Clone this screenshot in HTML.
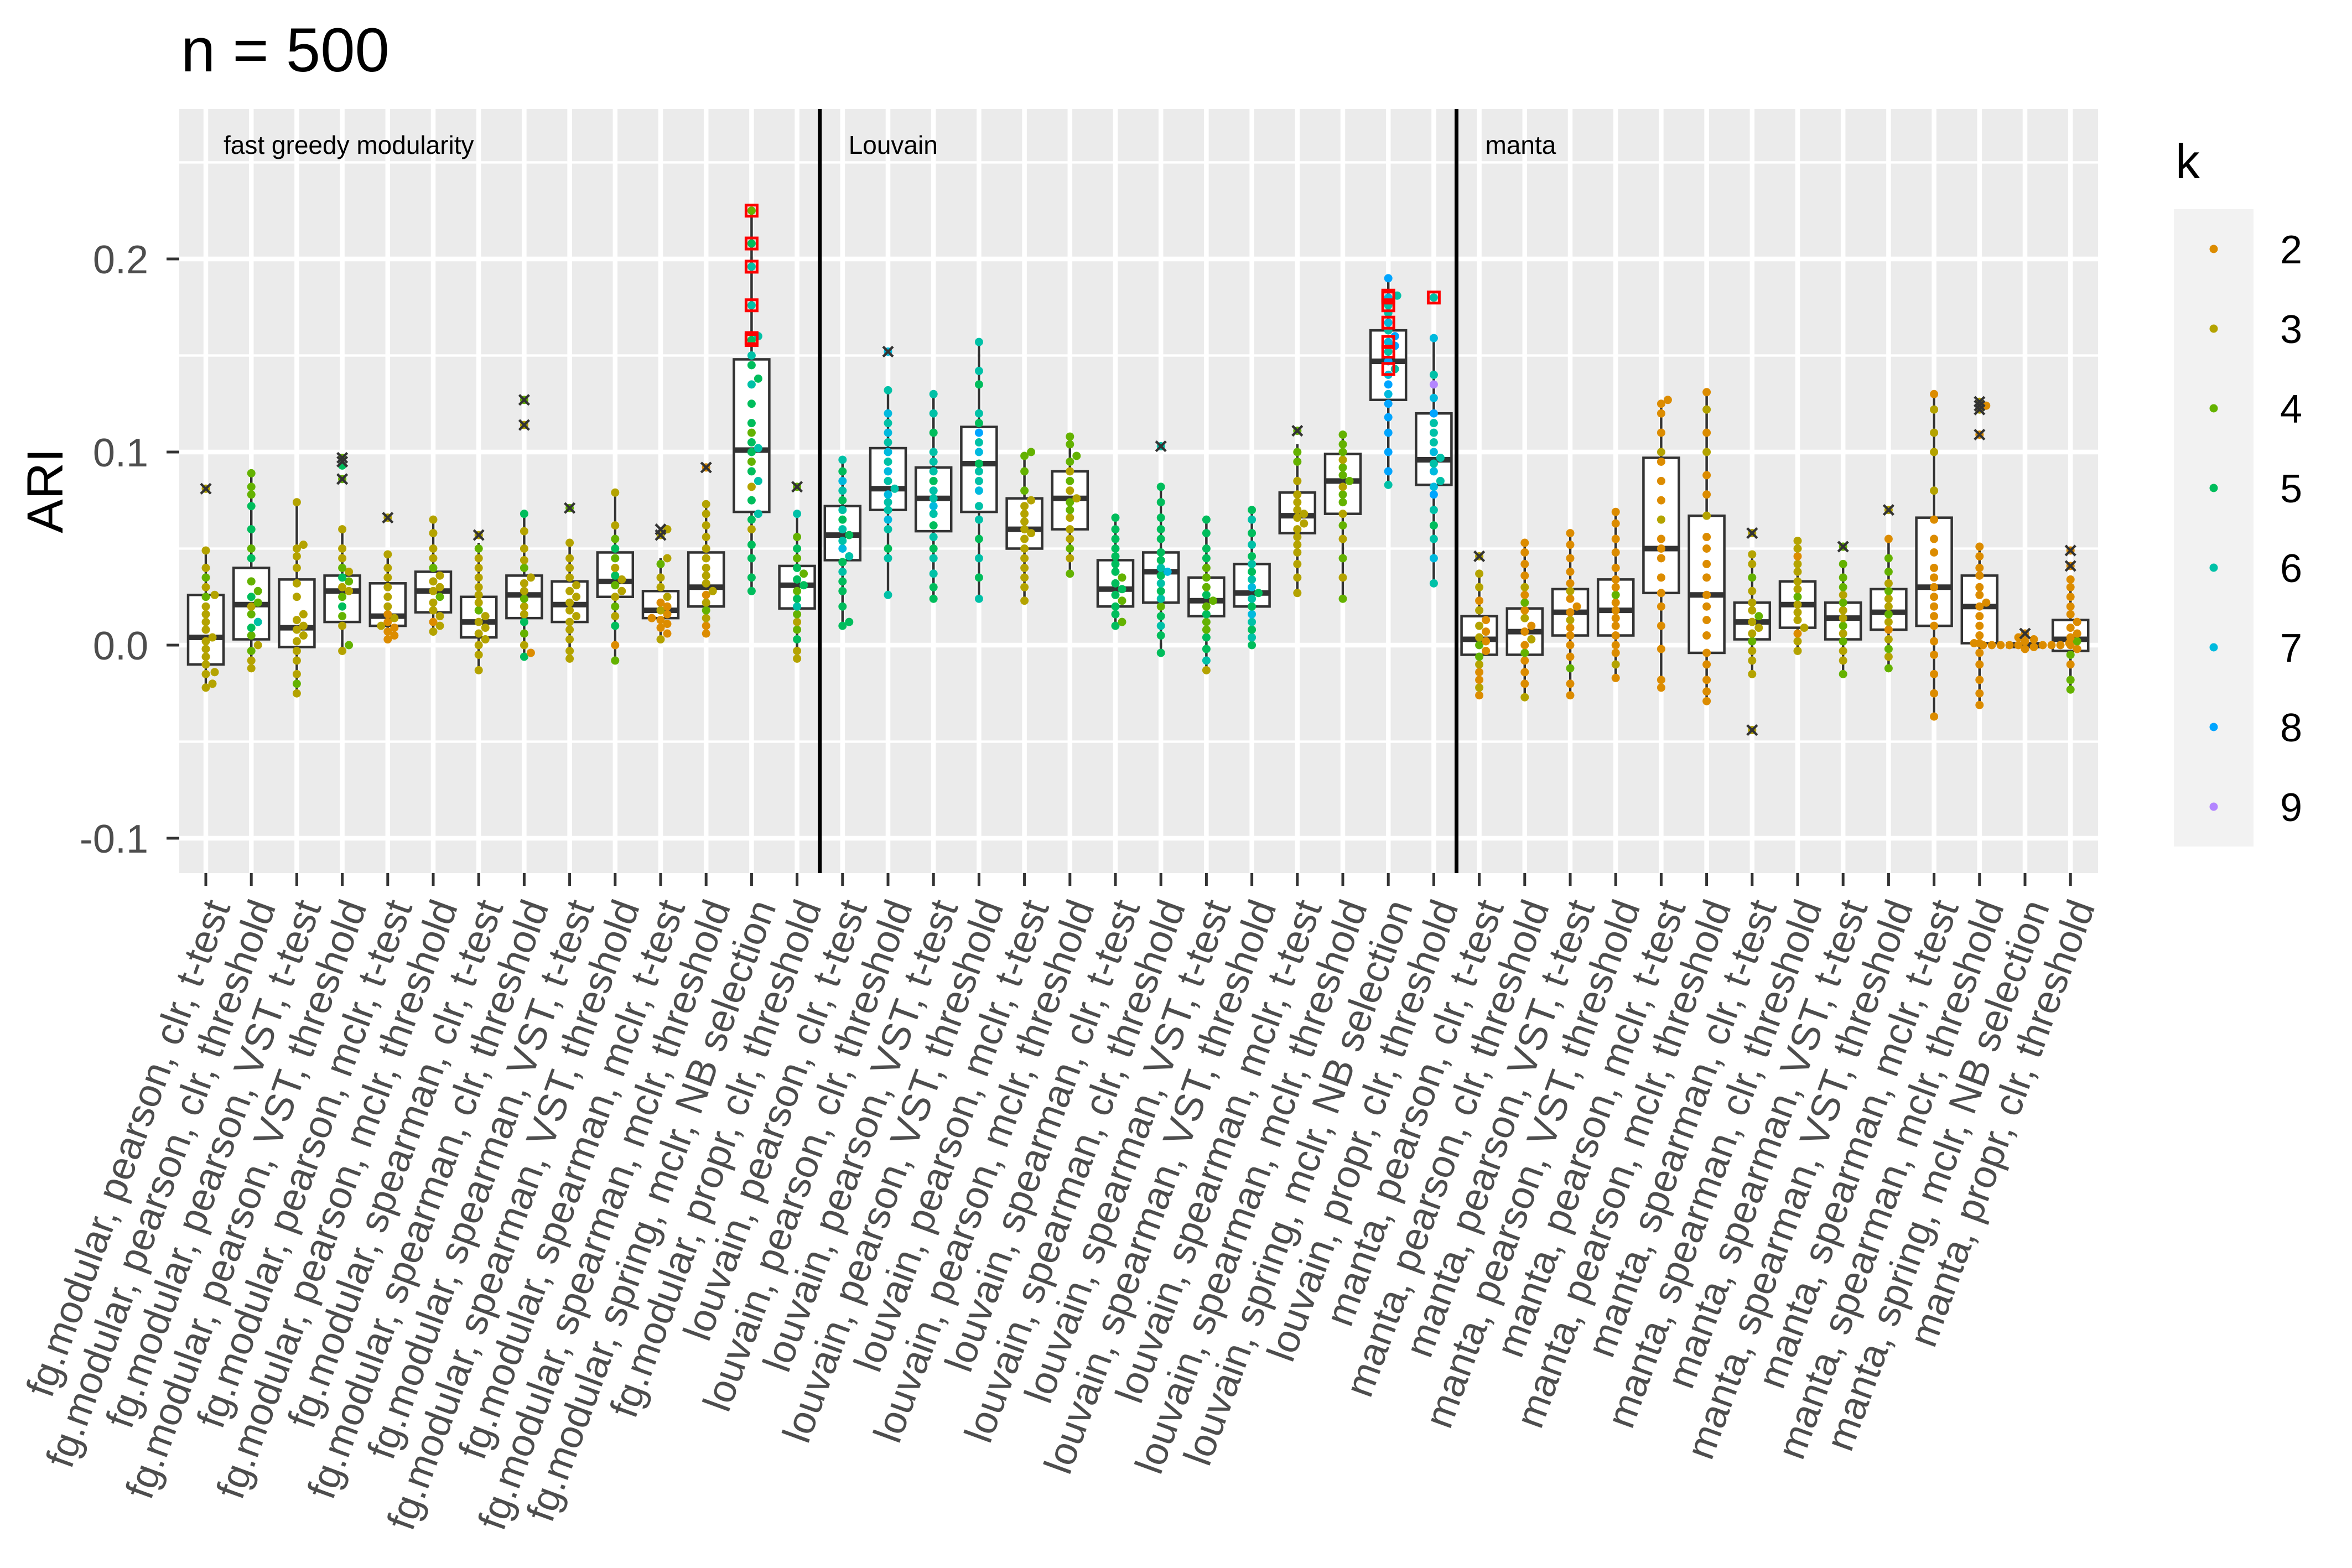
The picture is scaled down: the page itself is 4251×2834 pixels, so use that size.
<!DOCTYPE html>
<html><head><meta charset="utf-8"><title>n = 500 ARI</title>
<style>html,body{margin:0;padding:0;background:#fff}svg{display:block}text{font-family:"Liberation Sans",Arial,sans-serif}</style>
</head><body>
<svg id="chart" xmlns="http://www.w3.org/2000/svg" width="4251" height="2834" viewBox="0 0 4251 2834">
<rect x="0" y="0" width="4251" height="2834" fill="#fff"/>
<text x="327" y="129" font-size="112" fill="#000">n = 500</text>
<rect x="324" y="197" width="3468" height="1381" fill="#EBEBEB"/>
<g id="grid"></g>
<g id="dividers"></g>
<g id="facetlabels"></g>
<g id="boxes"></g>
<g id="points"></g>
<g id="outliers"></g>
<g id="yaxis"></g>
<g id="xaxis"></g>
<text x="0" y="0" transform="translate(113,887) rotate(-90)" text-anchor="middle" font-size="92" fill="#000">ARI</text>
<g id="legend">
<text x="3932" y="322" font-size="88" fill="#000">k</text>
<rect x="3929" y="378" width="144" height="1152" fill="#F2F2F2"/>
</g>
</svg>
<script>
const categories = [
"fg.modular, pearson, clr, t-test","fg.modular, pearson, clr, threshold","fg.modular, pearson, VST, t-test","fg.modular, pearson, VST, threshold","fg.modular, pearson, mclr, t-test","fg.modular, pearson, mclr, threshold","fg.modular, spearman, clr, t-test","fg.modular, spearman, clr, threshold","fg.modular, spearman, VST, t-test","fg.modular, spearman, VST, threshold","fg.modular, spearman, mclr, t-test","fg.modular, spearman, mclr, threshold","fg.modular, spring, mclr, NB selection","fg.modular, propr, clr, threshold",
"louvain, pearson, clr, t-test","louvain, pearson, clr, threshold","louvain, pearson, VST, t-test","louvain, pearson, VST, threshold","louvain, pearson, mclr, t-test","louvain, pearson, mclr, threshold","louvain, spearman, clr, t-test","louvain, spearman, clr, threshold","louvain, spearman, VST, t-test","louvain, spearman, VST, threshold","louvain, spearman, mclr, t-test","louvain, spearman, mclr, threshold","louvain, spring, mclr, NB selection","louvain, propr, clr, threshold",
"manta, pearson, clr, t-test","manta, pearson, clr, threshold","manta, pearson, VST, t-test","manta, pearson, VST, threshold","manta, pearson, mclr, t-test","manta, pearson, mclr, threshold","manta, spearman, clr, t-test","manta, spearman, clr, threshold","manta, spearman, VST, t-test","manta, spearman, VST, threshold","manta, spearman, mclr, t-test","manta, spearman, mclr, threshold","manta, spring, mclr, NB selection","manta, propr, clr, threshold"];
const methodLabels = ["fast greedy modularity","Louvain","manta"];
const yTicks = [-0.1, 0.0, 0.1, 0.2];
const yTickLabels = ["-0.1","0.0","0.1","0.2"];
const yMinor = [-0.05, 0.05, 0.15, 0.25];
const legendKs = [2,3,4,5,6,7,8,9];
const kColors = {2:"#DC8C00",3:"#B4A300",4:"#64B200",5:"#00BD5C",6:"#00C1A7",7:"#00BADE",8:"#00A5FF",9:"#B385FF"};
const boxQ1 = [-0.010,0.003,-0.001,0.012,0.010,0.017,0.004,0.014,0.012,0.025,0.014,0.020,0.069,0.019,
 0.044,0.070,0.059,0.069,0.050,0.060,0.020,0.022,0.015,0.020,0.058,0.068,0.127,0.083,
 -0.005,-0.005,0.005,0.005,0.027,-0.004,0.003,0.009,0.003,0.008,0.010,0.001,-0.001,-0.003];
const boxMed = [0.004,0.021,0.009,0.028,0.015,0.028,0.012,0.026,0.021,0.033,0.018,0.030,0.101,0.031,
 0.057,0.081,0.076,0.094,0.060,0.076,0.029,0.038,0.023,0.027,0.067,0.085,0.147,0.096,
 0.003,0.007,0.017,0.018,0.050,0.026,0.012,0.021,0.014,0.017,0.030,0.020,0.000,0.003];
const boxQ3 = [0.026,0.040,0.034,0.036,0.032,0.038,0.025,0.036,0.033,0.048,0.028,0.048,0.148,0.041,
 0.072,0.102,0.092,0.113,0.076,0.090,0.044,0.048,0.035,0.042,0.079,0.099,0.163,0.120,
 0.015,0.019,0.029,0.034,0.097,0.067,0.022,0.033,0.022,0.029,0.066,0.036,0.001,0.013];
const whiskLo = [-0.023,-0.012,-0.025,-0.003,0.003,0.007,-0.013,-0.006,-0.007,-0.008,0.003,0.006,0.028,-0.007,
 0.010,0.026,0.024,0.024,0.023,0.037,0.010,-0.004,-0.013,0.000,0.027,0.024,0.083,0.032,
 -0.026,-0.027,-0.026,-0.017,-0.022,-0.029,-0.015,-0.003,-0.015,-0.012,-0.037,-0.031,-0.002,-0.023];
const whiskHi = [0.050,0.089,0.074,0.059,0.047,0.065,0.053,0.068,0.053,0.079,0.045,0.073,0.225,0.068,
 0.097,0.132,0.130,0.157,0.100,0.108,0.066,0.082,0.065,0.070,0.104,0.109,0.190,0.159,
 0.037,0.053,0.058,0.069,0.127,0.131,0.047,0.054,0.042,0.055,0.130,0.051,0.003,0.034];
const outliers = [[0.081],[],[],[0.097,0.095,0.086],[0.066],[],[0.057],[0.127,0.114],[0.071],[],[0.060,0.057],[0.092],[],[0.082],
 [],[0.152],[],[],[],[],[],[0.103],[],[],[0.111],[],[],[],
 [0.046],[],[],[],[],[],[0.058,-0.044],[],[0.051],[0.070],[],[0.126,0.124,0.122,0.109],[0.006],[0.049,0.041]];
const highlightCat = [12,12,12,12,12,12,26,26,26,26,26,26,26,27];
const highlightVal = [0.225,0.208,0.196,0.176,0.159,0.158,0.181,0.180,0.176,0.167,0.157,0.152,0.143,0.180];
const points = [
"-0.022:3 -0.02:3 -0.015:3 -0.014:3 -0.01:3 -0.006:3 -0.002:3 0.002:3 0.004:3 0.008:3 0.012:3 0.016:3 0.02:3 0.025:4 0.026:3 0.03:3 0.035:4 0.04:3 0.049:3 0.081:3",
"-0.012:3 -0.008:3 -0.003:4 0:3 0.005:4 0.009:5 0.012:6 0.016:4 0.02:3 0.022:4 0.025:5 0.028:4 0.033:4 0.045:5 0.05:4 0.06:5 0.072:5 0.078:4 0.082:4 0.089:4",
"-0.025:3 -0.02:4 -0.015:3 -0.008:3 -0.003:3 0.002:3 0.005:3 0.008:3 0.01:3 0.013:3 0.016:3 0.025:3 0.032:3 0.04:3 0.046:3 0.05:3 0.052:3 0.074:3",
"-0.003:3 0:4 0.01:3 0.015:4 0.02:5 0.025:4 0.028:3 0.03:3 0.033:4 0.035:5 0.038:3 0.04:4 0.045:3 0.05:3 0.06:3 0.086:4 0.093:5 0.097:4",
"0.003:2 0.005:2 0.007:2 0.009:2 0.01:3 0.012:2 0.014:3 0.016:2 0.02:3 0.025:3 0.03:3 0.035:3 0.04:3 0.047:3 0.066:3",
"0.007:3 0.01:3 0.012:2 0.015:3 0.018:3 0.022:3 0.025:4 0.028:3 0.03:3 0.033:3 0.036:3 0.04:4 0.045:3 0.05:3 0.058:3 0.065:3",
"-0.013:3 -0.005:3 0:3 0.003:3 0.006:3 0.009:3 0.012:3 0.015:3 0.018:4 0.022:3 0.026:3 0.03:3 0.035:3 0.04:3 0.045:3 0.05:4 0.057:3",
"-0.006:5 -0.004:2 0:3 0.006:4 0.012:5 0.016:3 0.02:3 0.024:4 0.028:3 0.032:3 0.035:3 0.04:4 0.044:3 0.05:3 0.059:3 0.068:5 0.114:3 0.127:4",
"-0.007:3 -0.003:3 0.003:3 0.008:3 0.012:3 0.015:3 0.018:3 0.022:3 0.025:3 0.028:3 0.031:3 0.035:3 0.04:3 0.045:3 0.053:3 0.071:4",
"-0.008:4 0:2 0.01:5 0.015:3 0.02:4 0.025:3 0.028:3 0.031:4 0.034:3 0.036:5 0.04:3 0.045:4 0.05:5 0.055:4 0.062:3 0.079:3",
"0.003:3 0.006:2 0.009:2 0.011:2 0.013:2 0.014:2 0.016:2 0.018:3 0.02:2 0.022:2 0.025:3 0.03:3 0.035:3 0.042:4 0.045:3 0.057:3 0.06:3",
"0.006:2 0.01:2 0.014:3 0.018:4 0.022:3 0.026:2 0.028:3 0.032:3 0.036:3 0.04:3 0.045:3 0.05:3 0.056:3 0.062:3 0.068:3 0.073:3 0.092:2",
"0.028:5 0.035:5 0.045:5 0.052:5 0.06:3 0.065:5 0.068:6 0.075:5 0.082:3 0.085:6 0.09:5 0.095:4 0.1:5 0.102:6 0.105:5 0.11:4 0.115:5 0.125:5 0.135:6 0.138:5 0.145:5 0.15:6 0.158:5 0.16:6 0.176:6 0.196:6 0.208:5 0.225:4",
"-0.007:3 -0.003:3 0.003:5 0.008:4 0.012:3 0.016:4 0.02:6 0.024:5 0.028:4 0.031:5 0.034:5 0.037:4 0.04:5 0.045:4 0.05:5 0.056:4 0.068:6 0.082:4",
"0.01:5 0.012:5 0.02:5 0.028:5 0.033:5 0.038:6 0.043:5 0.046:6 0.05:7 0.054:6 0.057:5 0.06:6 0.065:5 0.07:6 0.075:5 0.08:6 0.085:7 0.09:5 0.096:6",
"0.026:6 0.045:6 0.05:5 0.06:6 0.065:7 0.07:6 0.074:6 0.078:7 0.081:6 0.085:6 0.09:7 0.095:6 0.1:7 0.105:6 0.11:7 0.115:6 0.12:7 0.132:6 0.152:7",
"0.024:5 0.03:5 0.037:6 0.045:6 0.05:5 0.056:6 0.062:5 0.068:6 0.072:7 0.076:6 0.08:6 0.085:5 0.09:6 0.095:6 0.1:6 0.11:5 0.12:6 0.13:6",
"0.024:6 0.035:5 0.045:6 0.055:5 0.065:6 0.072:6 0.08:7 0.085:6 0.09:6 0.094:5 0.1:7 0.105:6 0.11:8 0.115:5 0.12:6 0.135:5 0.142:6 0.157:6",
"0.023:3 0.03:3 0.035:3 0.04:3 0.045:3 0.05:3 0.055:3 0.058:3 0.06:3 0.064:3 0.068:3 0.072:3 0.075:3 0.08:4 0.09:4 0.098:4 0.1:4",
"0.037:4 0.045:3 0.05:4 0.055:3 0.06:3 0.066:3 0.07:4 0.074:4 0.076:3 0.08:3 0.085:4 0.09:3 0.095:4 0.098:4 0.104:4 0.108:4",
"0.01:5 0.012:4 0.016:5 0.02:5 0.023:4 0.026:5 0.029:5 0.032:5 0.035:4 0.038:5 0.042:5 0.046:5 0.05:5 0.055:5 0.06:5 0.066:5",
"-0.004:5 0.005:5 0.01:6 0.015:5 0.02:4 0.024:6 0.028:5 0.032:6 0.036:5 0.038:7 0.04:6 0.044:5 0.048:5 0.055:5 0.06:5 0.066:5 0.074:5 0.082:5 0.103:6",
"-0.013:3 -0.008:6 -0.002:5 0.004:5 0.008:4 0.012:4 0.016:5 0.02:4 0.023:4 0.026:5 0.03:4 0.035:4 0.04:4 0.045:5 0.05:5 0.058:5 0.065:5",
"0:5 0.004:6 0.008:5 0.012:6 0.016:7 0.02:5 0.024:6 0.027:5 0.03:7 0.034:6 0.038:5 0.042:6 0.046:5 0.052:6 0.058:5 0.065:6 0.07:5",
"0.027:3 0.035:3 0.042:3 0.048:3 0.052:3 0.056:3 0.06:3 0.063:3 0.066:3 0.068:3 0.07:3 0.074:3 0.078:3 0.085:3 0.095:4 0.1:4 0.111:4",
"0.024:4 0.035:3 0.045:4 0.055:3 0.062:4 0.068:3 0.074:4 0.078:4 0.082:3 0.085:4 0.088:4 0.092:4 0.096:3 0.1:4 0.104:4 0.109:4",
"0.083:6 0.09:8 0.1:8 0.11:8 0.118:8 0.125:8 0.13:7 0.135:8 0.14:7 0.143:6 0.147:8 0.152:6 0.155:8 0.157:7 0.16:8 0.163:6 0.167:7 0.172:6 0.176:6 0.18:7 0.181:6 0.19:8",
"0.032:6 0.045:7 0.055:6 0.062:5 0.07:6 0.078:8 0.082:7 0.085:6 0.09:7 0.094:6 0.097:6 0.1:7 0.105:6 0.11:6 0.115:6 0.12:8 0.128:7 0.135:9 0.14:6 0.159:7 0.18:6",
"-0.026:2 -0.022:3 -0.018:2 -0.014:2 -0.01:3 -0.006:4 -0.003:2 0:4 0.002:2 0.004:3 0.007:2 0.01:3 0.013:2 0.018:3 0.023:2 0.03:3 0.037:3 0.046:3",
"-0.027:3 -0.02:2 -0.014:2 -0.008:2 -0.004:4 0:2 0.003:3 0.007:2 0.01:2 0.014:3 0.018:2 0.022:4 0.026:2 0.03:3 0.036:2 0.042:2 0.048:2 0.053:2",
"-0.026:2 -0.02:2 -0.012:4 -0.006:2 0:2 0.005:2 0.009:2 0.013:3 0.017:2 0.02:2 0.024:2 0.028:3 0.032:2 0.038:2 0.045:2 0.052:2 0.058:2",
"-0.017:2 -0.01:3 -0.004:2 0:2 0.005:2 0.01:2 0.014:2 0.018:2 0.022:2 0.026:4 0.03:2 0.034:2 0.04:2 0.048:2 0.055:2 0.063:2 0.069:2",
"-0.022:2 -0.018:2 -0.002:2 0.01:2 0.02:2 0.027:2 0.035:2 0.045:2 0.05:2 0.055:2 0.065:3 0.075:2 0.085:2 0.095:2 0.1:3 0.11:2 0.12:2 0.125:2 0.127:2",
"-0.029:2 -0.024:2 -0.018:2 -0.01:2 -0.004:2 0.005:2 0.013:2 0.02:2 0.026:2 0.035:2 0.042:2 0.05:2 0.056:2 0.067:3 0.078:2 0.088:2 0.1:3 0.11:2 0.122:3 0.131:2",
"-0.044:3 -0.015:3 -0.008:3 -0.003:3 0.002:4 0.006:3 0.009:3 0.012:3 0.015:4 0.018:3 0.022:3 0.028:3 0.035:4 0.042:3 0.047:3 0.058:3",
"-0.003:3 0.002:3 0.006:2 0.009:3 0.013:3 0.017:3 0.021:3 0.025:4 0.029:3 0.033:3 0.038:3 0.042:3 0.046:2 0.05:3 0.054:3",
"-0.015:4 -0.008:3 -0.003:3 0.002:4 0.006:3 0.01:4 0.014:3 0.018:3 0.022:4 0.026:3 0.03:4 0.035:4 0.042:4 0.051:4",
"-0.012:4 -0.006:3 -0.002:4 0.003:3 0.008:2 0.012:3 0.016:4 0.02:3 0.024:3 0.028:4 0.032:3 0.038:4 0.045:4 0.055:2 0.07:3",
"-0.037:2 -0.025:2 -0.015:2 -0.005:2 0.002:2 0.01:2 0.015:2 0.02:2 0.025:2 0.03:2 0.035:2 0.04:2 0.048:2 0.055:2 0.065:2 0.08:3 0.1:3 0.11:3 0.122:3 0.13:2",
"-0.031:2 -0.025:2 -0.018:2 -0.01:2 -0.004:2 0.001:2 0.005:2 0.01:2 0.015:2 0.02:2 0.022:2 0.026:2 0.03:2 0.036:2 0.04:2 0.046:2 0.051:2 0.109:2 0.122:3 0.124:2 0.126:3",
"-0.002:2 -0.001:2 0:2 0:2 0:2 0:2 0:2 0:2 0:2 0:2 0.001:2 0.001:2 0.002:2 0.003:2 0.004:2 0.006:2",
"-0.023:4 -0.018:4 -0.01:2 -0.005:4 -0.002:2 0:2 0.002:4 0.004:2 0.006:2 0.009:2 0.012:2 0.016:2 0.02:2 0.025:2 0.03:2 0.034:2 0.041:2 0.049:2"];

const NS = "http://www.w3.org/2000/svg";
const PL = 324, PR = 3792, PT = 197, PB = 1578;
const X0 = 372, DX = 82.2;
function xPos(i){ return X0 + i*DX; }
function yPos(v){ return 1166 - v*3490; }
function mk(tag, attrs, parent){ const e = document.createElementNS(NS, tag); for (const k in attrs) e.setAttribute(k, attrs[k]); parent.appendChild(e); return e; }
const G = id => document.getElementById(id);

const grid = G("grid");
yMinor.forEach(v => {
  const l = mk("line", {x1:PL, x2:PR, y1:yPos(v), y2:yPos(v), stroke:"#fff", "stroke-width":4.3}, grid);
  
  
});
yTicks.forEach(v => {
  const l = mk("line", {x1:PL, x2:PR, y1:yPos(v), y2:yPos(v), stroke:"#fff", "stroke-width":8.5}, grid);
  
  
});
categories.forEach((c, i) => {
  const l = mk("line", {x1:xPos(i), x2:xPos(i), y1:PT, y2:PB, stroke:"#fff", "stroke-width":8.5}, grid);
  
  
});
const nPer = 14;
[1,2].forEach(m => {
  const x = (xPos(m*nPer - 1) + xPos(m*nPer))/2;
  const l = mk("line", {x1:x, x2:x, y1:PT, y2:PB, stroke:"#000", "stroke-width":7}, G("dividers"));
  
  
});
methodLabels.forEach((t, m) => {
  const left = m === 0 ? PL + 80 : (xPos(m*nPer - 1) + xPos(m*nPer))/2 + 52;
  const e = mk("text", {x:left, y:278, "font-size":46, fill:"#000"}, G("facetlabels"));
  e.textContent = t;
  
  
});
const bw = 64;
categories.forEach((c, i) => {
  const g = mk("g", {}, G("boxes"));
  
  
  const x = xPos(i);
  mk("line", {x1:x, x2:x, y1:yPos(boxQ3[i]), y2:yPos(whiskHi[i]), stroke:"#333", "stroke-width":4.5}, g);
  mk("line", {x1:x, x2:x, y1:yPos(boxQ1[i]), y2:yPos(whiskLo[i]), stroke:"#333", "stroke-width":4.5}, g);
  mk("rect", {x:x-bw/2, y:yPos(boxQ3[i]), width:bw, height:Math.max(1, yPos(boxQ1[i]) - yPos(boxQ3[i])), fill:"#fff", stroke:"#333", "stroke-width":4.5}, g);
  mk("line", {x1:x-bw/2, x2:x+bw/2, y1:yPos(boxMed[i]), y2:yPos(boxMed[i]), stroke:"#333", "stroke-width":10}, g);
});
const R = 7.5;
points.forEach((s, i) => {
  const pts = s.split(" ").map(p => { const a = p.split(":"); return {v:parseFloat(a[0]), k:parseInt(a[1])}; });
  pts.sort((a,b) => a.v - b.v);
  const placed = [];
  pts.forEach(p => {
    const y = yPos(p.v);
    let off = 0;
    for (let t = 0; t < 80; t++) {
      const cand = (t === 0) ? 0 : ((t % 2 ? 1 : -1) * Math.ceil(t/2) * 4);
      const ok = placed.every(q => (q.x - cand)*(q.x - cand) + (q.y - y)*(q.y - y) >= (2*R*0.9)*(2*R*0.9));
      if (ok) { off = cand; break; }
    }
    placed.push({x:off, y:y});
    const c = mk("circle", {cx:xPos(i) + off, cy:y, r:R, fill:kColors[p.k]}, G("points"));
    
    
  });
});
outliers.forEach((arr, i) => {
  arr.forEach(v => {
    const x = xPos(i), y = yPos(v), h = 9;
    const p = mk("path", {d:`M${x-h},${y-h}L${x+h},${y+h}M${x-h},${y+h}L${x+h},${y-h}`, stroke:"#333", "stroke-width":4.5, fill:"none"}, G("outliers"));
    
    
  });
});
highlightCat.forEach((ci, j) => {
  const x = xPos(ci), y = yPos(highlightVal[j]);
  const r = mk("rect", {x:x-10, y:y-10, width:20, height:20, fill:"none", stroke:"#FF0000", "stroke-width":5}, G("outliers"));
  
  
});
yTicks.forEach((v, j) => {
  const y = yPos(v);
  const t = mk("line", {x1:301, x2:324, y1:y, y2:y, stroke:"#333", "stroke-width":5}, G("yaxis"));
  
  
  const e = mk("text", {x:268, y:y + 26, "text-anchor":"end", "font-size":72, fill:"#4D4D4D"}, G("yaxis"));
  e.textContent = yTickLabels[j];
  
  
});
categories.forEach((c, i) => {
  const x = xPos(i);
  const t = mk("line", {x1:x, x2:x, y1:PB, y2:PB + 23, stroke:"#333", "stroke-width":5}, G("xaxis"));
  
  
  const e = mk("text", {x:0, y:0, transform:`translate(${x + 45},${PB + 60}) rotate(-70)`, "text-anchor":"end", "font-size":72, fill:"#4D4D4D"}, G("xaxis"));
  e.textContent = c;
  
  
});
legendKs.forEach((k, j) => {
  const y = 450 + j*144;
  const c = mk("circle", {cx:4001, cy:y, r:R, fill:kColors[k]}, G("legend"));
  
  
  const e = mk("text", {x:4121, y:y + 26, "font-size":72, fill:"#000"}, G("legend"));
  e.textContent = String(k);
  
  
});
</script>
</body></html>
